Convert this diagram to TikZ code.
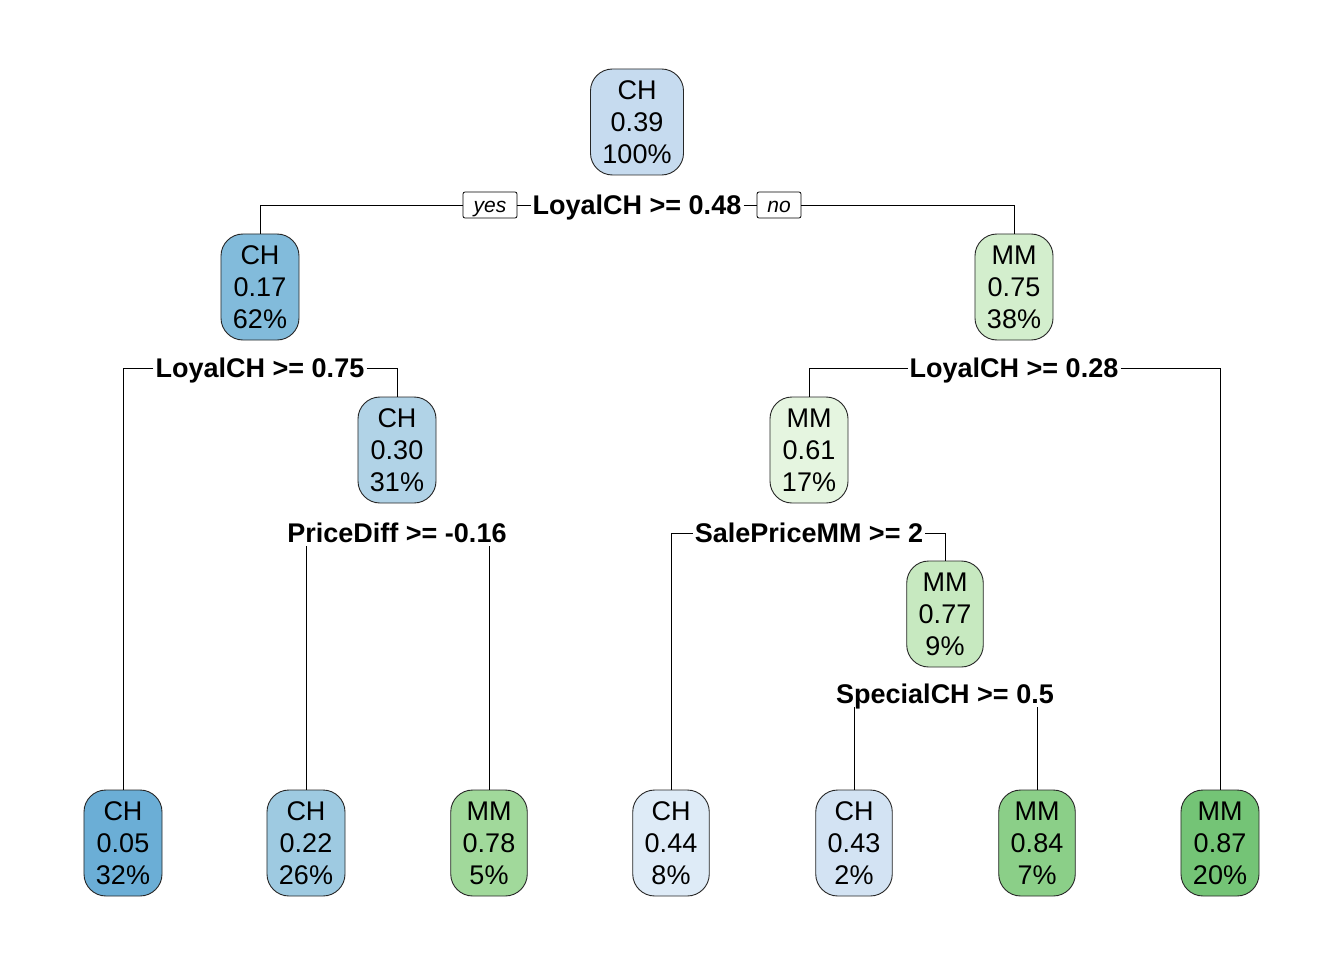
\documentclass[tikz,border=0pt]{standalone}
\usepackage{fontspec}
\setmainfont{Liberation Sans}
\definecolor{c05}{HTML}{6BAED6}
\definecolor{c17}{HTML}{82BBDB}
\definecolor{c22}{HTML}{9ECAE1}
\definecolor{c30}{HTML}{B1D3E7}
\definecolor{c39}{HTML}{C6DBEF}
\definecolor{c43}{HTML}{D3E3F3}
\definecolor{c44}{HTML}{DEEBF7}
\definecolor{c61}{HTML}{E5F5E0}
\definecolor{c75}{HTML}{D3EECD}
\definecolor{c77}{HTML}{C7E9C0}
\definecolor{c78}{HTML}{A1D99B}
\definecolor{c84}{HTML}{8BCF88}
\definecolor{c87}{HTML}{74C476}
\begin{document}
\begin{tikzpicture}[x=1pt,y=-1pt,
  tnode/.style={draw=black!85, line width=0.9pt, rounded corners=22pt, align=center,
    inner xsep=12pt, inner ysep=0pt, minimum height=106pt,
    font=\fontsize{27}{32}\selectfont},
  split/.style={inner sep=2pt, text height=20pt, text depth=1pt, font=\bfseries\fontsize{27}{27}\selectfont},
  yn/.style={draw, rounded corners=2pt, line width=0.8pt, inner xsep=0pt, inner ysep=0pt,
    text height=18pt, text depth=2pt, minimum height=26pt, minimum width=0pt,
    font=\itshape\fontsize{21}{21}\selectfont},
  conn/.style={line width=0.9pt}]
\useasboundingbox (0,0) rectangle (1344,960);
% nodes
\node[tnode, fill=c39] (root) at (637,122) {CH\\0.39\\100\%};
\node[tnode, fill=c17] (n2) at (260,287) {CH\\0.17\\62\%};
\node[tnode, fill=c75] (n3) at (1014,287) {MM\\0.75\\38\%};
\node[tnode, fill=c30] (n4) at (397,450) {CH\\0.30\\31\%};
\node[tnode, fill=c61] (n5) at (809,450) {MM\\0.61\\17\%};
\node[tnode, fill=c77] (n6) at (945,614) {MM\\0.77\\9\%};
\node[tnode, fill=c05] (l1) at (123,843) {CH\\0.05\\32\%};
\node[tnode, fill=c22] (l2) at (306,843) {CH\\0.22\\26\%};
\node[tnode, fill=c78] (l3) at (489,843) {MM\\0.78\\5\%};
\node[tnode, fill=c44] (l4) at (671,843) {CH\\0.44\\8\%};
\node[tnode, fill=c43] (l5) at (854,843) {CH\\0.43\\2\%};
\node[tnode, fill=c84] (l6) at (1037,843) {MM\\0.84\\7\%};
\node[tnode, fill=c87] (l7) at (1220,843) {MM\\0.87\\20\%};
% split labels
\node[split] (s1) at (637,205) {LoyalCH >= 0.48};
\node[yn, minimum width=54pt] (yes) at (490,205) {yes};
\node[yn, minimum width=44pt] (no) at (779,205) {no};
\node[split] (s2) at (260,368) {LoyalCH >= 0.75};
\node[split] (s3) at (1014,368) {LoyalCH >= 0.28};
\node[split] (s4) at (397,533) {PriceDiff >= -0.16};
\node[split] (s5) at (809,533) {SalePriceMM >= 2};
\node[split] (s6) at (945,694) {SpecialCH >= 0.5};
% connectors
\draw[conn] (yes.west) -| (n2.north);
\draw[conn] (yes.east) -- (s1.west);
\draw[conn] (s1.east) -- (no.west);
\draw[conn] (no.east) -| (n3.north);
\draw[conn] (s2.west) -| (l1.north);
\draw[conn] (s2.east) -| (n4.north);
\draw[conn] (s3.west) -| (n5.north);
\draw[conn] (s3.east) -| (l7.north);
\draw[conn] (s5.west) -| (l4.north);
\draw[conn] (s5.east) -| (n6.north);
\draw[conn] (l2.north) -- (l2.north |- s4.south);
\draw[conn] (l3.north) -- (l3.north |- s4.south);
\draw[conn] (l5.north) -- (l5.north |- s6.south);
\draw[conn] (l6.north) -- (l6.north |- s6.south);
\end{tikzpicture}
\end{document}
